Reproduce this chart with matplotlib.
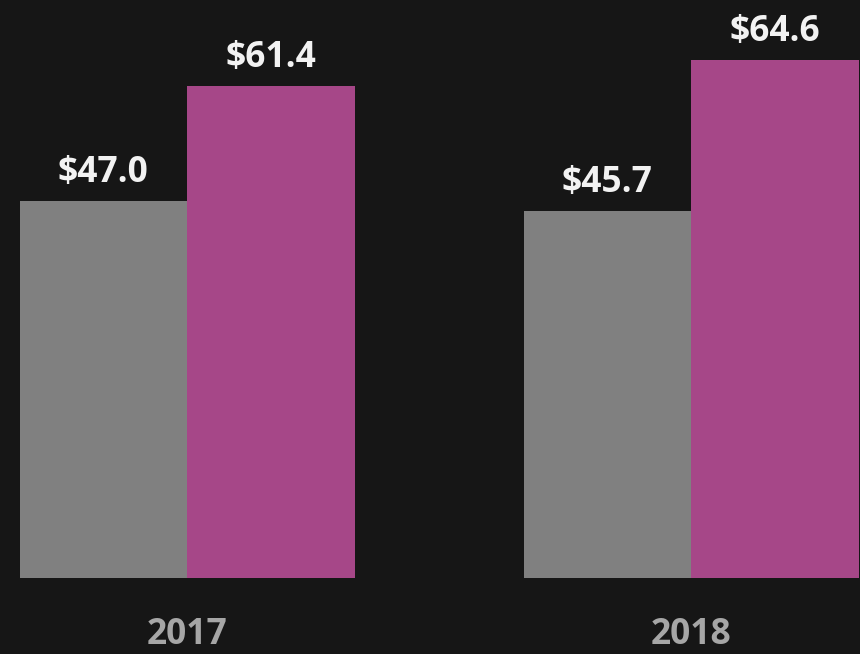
import matplotlib.pyplot as plt
import numpy as np

# datos
years = ['2017', '2018']
serie_gris = [47.0, 45.7]
serie_magenta = [61.4, 64.6]

fondo = '#161616'
plt.rcParams['font.family'] = ['Open Sans', 'DejaVu Sans']

fig = plt.figure(figsize=(8.6, 6.54), dpi=100, facecolor=fondo)
ax = fig.add_axes([0, 0.1162, 1, 0.8838])
ax.set_facecolor(fondo)

x = np.arange(len(years))
w = 0.3323

b1 = ax.bar(x - w / 2, serie_gris, width=w, color='#808080')
b2 = ax.bar(x + w / 2, serie_magenta, width=w, color='#A64788')

# etiquetas de valor encima de cada barra
for barras in (b1, b2):
    for b in barras:
        ax.annotate(f'${b.get_height():.1f}',
                    (b.get_x() + b.get_width() / 2, b.get_height()),
                    xytext=(0, 13.7), textcoords='offset points',
                    ha='center', va='baseline', fontsize=25.5,
                    fontweight='bold', color='#F2F2F2')

# años debajo de cada grupo
for xi, yr in zip(x, years):
    ax.text(xi, -0.114, yr, transform=ax.get_xaxis_transform(),
            ha='center', va='baseline', fontsize=25.5,
            fontweight='bold', color='#A6A6A6')

ax.set_xlim(-0.371, 1.335)
ax.set_ylim(0, 72.07)
ax.axis('off')

fig.savefig('out.png', dpi=100, facecolor=fondo)
